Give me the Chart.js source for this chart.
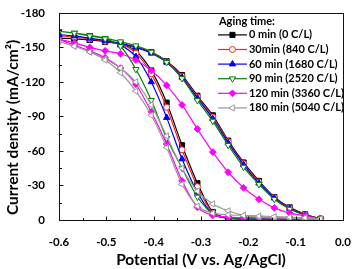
<!DOCTYPE html>
<html>
<head>
<meta charset="utf-8">
<script src="https://cdn.jsdelivr.net/npm/chart.js@4/dist/chart.umd.min.js"></script>
<style>
html,body{margin:0;padding:0;background:#fff;}
#wrap{width:358px;height:269px;}
</style>
</head>
<body>
<div id="wrap"><canvas id="c" width="358" height="269"></canvas></div>
<script>
// Sweep potential (V vs. Ag/AgCl): forward sweep from -0.05 V to -0.6 V, then back
const potential = [
  -0.0475, -0.08, -0.1125, -0.145, -0.1775, -0.21, -0.2425, -0.275, -0.3075,
  -0.34, -0.3725, -0.405, -0.4375, -0.47, -0.5025, -0.535, -0.5675, -0.6,
  -0.5675, -0.535, -0.5025, -0.47, -0.4375, -0.405, -0.3725, -0.34, -0.3075,
  -0.275, -0.2425, -0.21, -0.1775, -0.145, -0.1125, -0.08, -0.0475
];

// Current density (mA/cm2) for each aging time
const current0min = [
  -1, -5, -11, -20, -34, -50, -69, -91, -108, -126, -138, -146, -150, -153, -155, -156.5, -157.5, -158,
  -157.5, -156.5, -155, -153, -147, -130, -102, -65, -32, -7, -1.5, -0.8, -0.8, -0.8, -0.8, -0.8, -0.8
];
const current30min = [
  -1, -4.8, -10.5, -19.5, -33, -49, -68, -89.5, -107, -125, -137.5, -145.5, -150, -153, -155.5, -157.5, -159, -160,
  -159, -157.5, -155.5, -153, -145, -127, -98, -61, -29, -6, -1.5, -1, -1, -1, -1, -1, -1
];
const current60min = [
  -1, -4.5, -10, -19, -32, -48, -67, -88, -106, -124, -137, -145, -150, -153.5, -156, -158, -160, -161,
  -160, -158, -156, -152, -142, -120, -89, -53, -24, -5, -1.5, -1.2, -1.2, -1.2, -1.2, -1.2, -1.2
];
const current90min = [
  -0.8, -4, -9.5, -18, -31, -46, -65, -86, -104, -123, -137, -146, -151.5, -155, -158, -160.5, -162.5, -164,
  -162.5, -160, -157.5, -151, -131, -104, -71, -45, -20, -5, -1.5, -1, -1, -1, -1, -1, -1
];
const current120min = [
  -1, -3.5, -6, -10.5, -18, -28, -41.5, -59, -79, -100, -117, -130, -139, -144.5, -147, -150, -154, -157,
  -152, -147, -141, -132, -118, -94, -66, -34, -11, -4, -2.5, -2, -2, -1.8, -1.5, -1.2, -1
];
const current180min = [
  -0.5, -1, -1.5, -2, -2.5, -4, -8, -14, -25, -45, -73, -100, -120, -132, -140, -146, -151, -155,
  -151, -146, -139, -128, -112, -91, -63, -31, -12, -6, -4.5, -4, -3.5, -3, -2.5, -2, -1
];

const seriesLabels = ['0 min (0 C/L)', '30min (840 C/L)', '60 min (1680 C/L)', '90 min (2520 C/L)', '120 min (3360 C/L)', '180 min (5040 C/L)'];
const seriesCurrents = [current0min, current30min, current60min, current90min, current120min, current180min];
const legendTitle = 'Aging time:';
const xTitle = 'Potential (V vs. Ag/AgCl)';
const yTitle = 'Current density (mA/cm²)';

const styles = [
  {color: '#000000', bg: '#000000', pointStyle: 'rect', rotation: 0, radius: 3.6},
  {color: '#ff2020', bg: '#ffffff', pointStyle: 'circle', rotation: 0, radius: 3},
  {color: '#0000ff', bg: '#0000ff', pointStyle: 'triangle', rotation: 0, radius: 3.6},
  {color: '#008000', bg: '#ffffff', pointStyle: 'triangle', rotation: 180, radius: 3.6},
  {color: '#ff00ff', bg: '#ff00ff', pointStyle: 'rectRot', rotation: 0, radius: 3.4},
  {color: '#999999', bg: '#ffffff', pointStyle: 'triangle', rotation: 270, radius: 3.6}
];

const FONT = 'Lato, "Open Sans", "Liberation Sans", sans-serif';

const datasets = seriesLabels.map((label, i) => ({
  label: label,
  data: potential.map((v, k) => ({x: v, y: seriesCurrents[i][k]})),
  showLine: true,
  borderColor: styles[i].color,
  backgroundColor: styles[i].bg,
  pointBorderColor: styles[i].color,
  pointBackgroundColor: styles[i].bg,
  pointStyle: styles[i].pointStyle,
  pointRotation: styles[i].rotation,
  pointRadius: styles[i].radius,
  pointBorderWidth: 1,
  borderWidth: 1.2,
  tension: 0.25,
  order: 5 - i
}));

function drawMarker(ctx, st, x, y) {
  ctx.save();
  ctx.fillStyle = st.bg;
  ctx.strokeStyle = st.color;
  ctx.lineWidth = 1;
  if (Chart.helpers && Chart.helpers.drawPoint) {
    Chart.helpers.drawPoint(ctx, {pointStyle: st.pointStyle, rotation: st.rotation, radius: st.radius, borderWidth: 1}, x, y);
  } else {
    ctx.beginPath(); ctx.arc(x, y, st.radius, 0, Math.PI * 2); ctx.fill(); ctx.stroke();
  }
  ctx.restore();
}

const framePlugin = {
  id: 'frameTicksLegend',
  afterDatasetsDraw(chart) {
    const ctx = chart.ctx;
    const ca = chart.chartArea;
    const xs = chart.scales.x, ys = chart.scales.y;
    ctx.save();
    ctx.strokeStyle = '#111';
    ctx.lineWidth = 1;
    ctx.strokeRect(Math.round(ca.left) + 0.5, Math.round(ca.top) + 0.5, Math.round(ca.right - ca.left), Math.round(ca.bottom - ca.top));
    // inward ticks
    const bottom = Math.round(ca.bottom) + 0.5, left = Math.round(ca.left) + 0.5;
    const xt = xs.ticks.map(t => t.value);
    ctx.beginPath();
    xt.forEach((v, idx) => {
      const px = Math.round(xs.getPixelForValue(v)) + 0.5;
      ctx.moveTo(px, bottom); ctx.lineTo(px, bottom - 4);
      if (idx < xt.length - 1) {
        const mx = Math.round(xs.getPixelForValue((v + xt[idx + 1]) / 2)) + 0.5;
        ctx.moveTo(mx, bottom); ctx.lineTo(mx, bottom - 2.5);
      }
    });
    const yt = ys.ticks.map(t => t.value);
    yt.forEach((v, idx) => {
      const py = Math.round(ys.getPixelForValue(v)) + 0.5;
      ctx.moveTo(left, py); ctx.lineTo(left + 4, py);
      if (idx < yt.length - 1) {
        const my = Math.round(ys.getPixelForValue((v + yt[idx + 1]) / 2)) + 0.5;
        ctx.moveTo(left, my); ctx.lineTo(left + 2.5, my);
      }
    });
    ctx.stroke();

    // legend
    const lineStart = ca.right - 125, lineEnd = ca.right - 96, textX = ca.right - 94;
    ctx.fillStyle = '#000';
    ctx.font = 'bold 11px ' + FONT;
    ctx.textBaseline = 'middle';
    ctx.textAlign = 'left';
    ctx.fillText(legendTitle, lineStart + 1, ca.top + 8.5);
    seriesLabels.forEach((label, i) => {
      const y = ca.top + 22 + i * 14.6;
      ctx.strokeStyle = styles[i].color;
      ctx.lineWidth = 1.2;
      ctx.beginPath(); ctx.moveTo(lineStart, y); ctx.lineTo(lineEnd, y); ctx.stroke();
      drawMarker(ctx, styles[i], (lineStart + lineEnd) / 2, y);
      ctx.fillStyle = '#000';
      ctx.fillText(label, textX, y);
    });

    // y-axis title
    ctx.save();
    ctx.translate(13, (ca.top + ca.bottom) / 2 + 11);
    ctx.rotate(-Math.PI / 2);
    ctx.textAlign = 'center';
    ctx.textBaseline = 'middle';
    ctx.font = 'bold 15.5px ' + FONT;
    ctx.fillStyle = '#000';
    ctx.fillText(yTitle, 0, 0);
    ctx.restore();
    ctx.restore();
  }
};

new Chart(document.getElementById('c'), {
  type: 'scatter',
  data: {datasets: datasets},
  options: {
    responsive: false,
    animation: false,
    layout: {padding: {top: 7, right: 11, left: 0, bottom: 0}},
    plugins: {legend: {display: false}, tooltip: {enabled: false}},
    scales: {
      x: {
        type: 'linear', min: -0.6, max: 0,
        grid: {display: false}, border: {display: false},
        ticks: {stepSize: 0.1, padding: 7, color: '#000', font: {family: FONT, size: 11.5, weight: 'bold'},
          callback: v => Number(v).toFixed(1)},
        title: {display: true, text: xTitle, color: '#000', font: {family: FONT, size: 15.5, weight: 'bold'}, padding: {top: 0, bottom: 0}},
        afterFit: s => { s.height = 49; }
      },
      y: {
        type: 'linear', min: -180, max: 0, reverse: true,
        grid: {display: false}, border: {display: false},
        ticks: {stepSize: 30, padding: 6, color: '#000', font: {family: FONT, size: 11.5, weight: 'bold'}},
        title: {display: false},
        afterFit: s => { s.width = 59; }
      }
    }
  },
  plugins: [framePlugin]
});
</script>
</body>
</html>
